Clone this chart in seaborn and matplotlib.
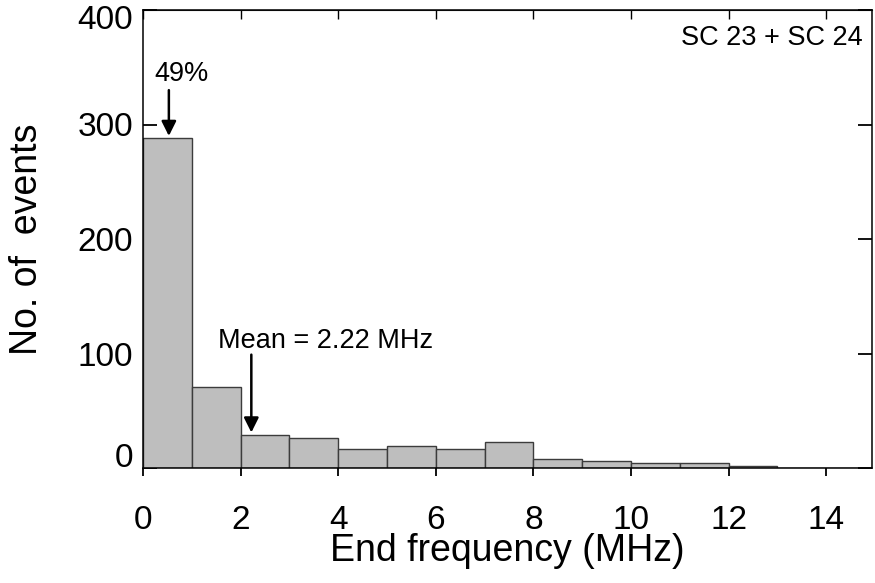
import numpy as np
import matplotlib
matplotlib.use("Agg")
import matplotlib.pyplot as plt
import matplotlib.transforms as mtransforms
import seaborn as sns

# ---- data ----
bin_edges = [0, 1, 2, 3, 4, 5, 6, 7, 8, 9, 10, 11, 12, 13, 14, 15]
counts = [288, 71, 29, 26, 17, 19, 17, 23, 8, 6, 4, 4, 2, 0, 0]
x_ticks = [0, 2, 4, 6, 8, 10, 12, 14]
y_ticks = [0, 100, 200, 300, 400]
peak_label = "49%"
mean_value = 2.22
mean_label = "Mean = 2.22 MHz"
corner_label = "SC 23 + SC 24"
x_title = "End frequency (MHz)"
y_title = "No. of  events"

sns.set_style("white")
plt.rcParams["font.family"] = ["Liberation Sans", "DejaVu Sans"]
plt.rcParams["text.color"] = "black"
plt.rcParams["axes.labelcolor"] = "black"

W, H = 875, 583
fig = plt.figure(figsize=(W / 100, H / 100), dpi=100)
L, R, T, B = 143, 871.5, 10, 468
ax = fig.add_axes([L / W, 1 - B / H, (R - L) / W, (B - T) / H])

centers = [(a + b) / 2 for a, b in zip(bin_edges[:-1], bin_edges[1:])]
sns.histplot(x=centers, weights=counts, bins=bin_edges, ax=ax,
             color="#bebebe", edgecolor="#3c3c3c", linewidth=1.0, alpha=1.0)

ax.set_xlim(0, 14.93)
ax.set_ylim(0, 400)
ax.set_xticks(x_ticks)
ax.set_yticks(y_ticks)

for s in ax.spines.values():
    s.set_visible(True)
    s.set_linewidth(1.1)
    s.set_color("black")

ax.tick_params(axis="x", direction="out", length=6, width=1.3, pad=20.5,
               labelsize=24, bottom=True, top=False, colors="black")
ax.tick_params(axis="y", direction="in", length=10, width=1.3, pad=7,
               labelsize=24, left=True, right=True, colors="black")
top = ax.secondary_xaxis("top")
top.set_xticks(x_ticks)
top.tick_params(direction="in", length=6.5, width=1.0, colors="black")
top.set_xticklabels([])
top.spines["top"].set_linewidth(0.8)

# nudge end labels like the reference
ylabels = ax.get_yticklabels()
ylabels[0].set_transform(ylabels[0].get_transform() +
                         mtransforms.ScaledTranslation(0, 13 / 100, fig.dpi_scale_trans))
ylabels[-1].set_transform(ylabels[-1].get_transform() +
                          mtransforms.ScaledTranslation(0, -7 / 100, fig.dpi_scale_trans))

ax.set_xlabel(x_title, fontsize=27, color="black")
ax.set_ylabel(y_title, fontsize=27, color="black")
ax.xaxis.set_label_coords(0.5, -0.142)
ax.yaxis.set_label_coords(-0.135, 0.5)

arrow = dict(arrowstyle="-|>,head_length=0.4,head_width=0.2", color="black",
             lw=1.8, mutation_scale=22, shrinkA=0, shrinkB=0)
ax.annotate("", xy=(0.53, 290), xytext=(0.53, 330), arrowprops=arrow)
ax.text(0.79, 338, peak_label, fontsize=19.5, ha="center", va="baseline")
ax.annotate("", xy=(mean_value, 31), xytext=(mean_value, 99), arrowprops=arrow)
ax.text(3.75, 104.6, mean_label, fontsize=19.5, ha="center", va="baseline")
ax.text(0.988, 0.9236, corner_label, fontsize=19.5, ha="right", va="baseline",
        transform=ax.transAxes)

fig.savefig("out.png", dpi=100)
